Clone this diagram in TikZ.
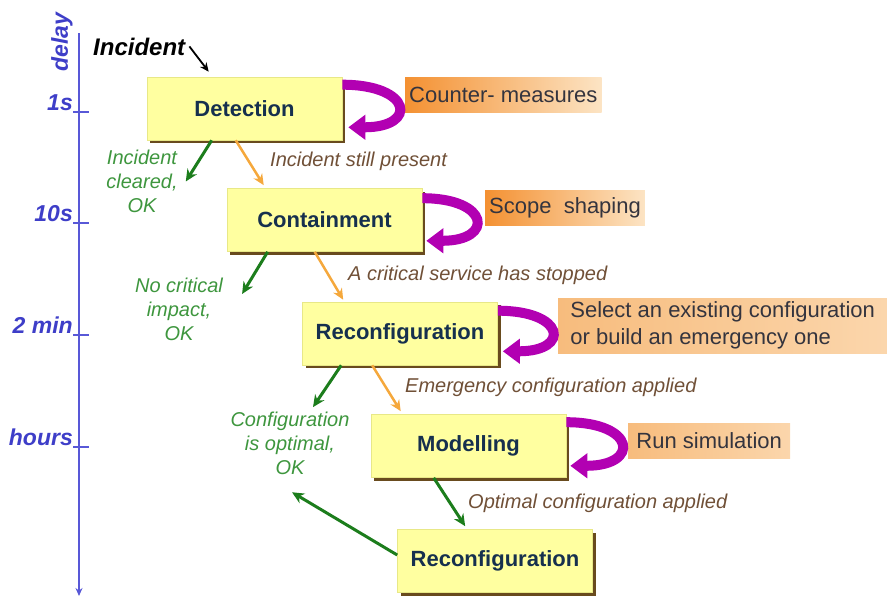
\documentclass[tikz,border=0pt]{standalone}
\usepackage{fontspec}
\setmainfont{Liberation Sans}
\usetikzlibrary{positioning, arrows.meta, shadows}

\definecolor{stageyellow}{RGB}{255,255,160}
\definecolor{stageedge}{RGB}{232,232,135}
\definecolor{stagetext}{RGB}{22,48,78}
\definecolor{shadowbrown}{RGB}{105,75,30}
\definecolor{axisblue}{RGB}{88,88,215}
\definecolor{axistext}{RGB}{62,62,200}
\definecolor{okgreen}{RGB}{28,125,28}
\definecolor{oktext}{RGB}{62,150,62}
\definecolor{goorange}{RGB}{245,168,60}
\definecolor{gotext}{RGB}{112,80,55}
\definecolor{loopviolet}{RGB}{178,0,178}
\definecolor{noteA}{RGB}{244,145,50}
\definecolor{noteB}{RGB}{252,228,196}
\definecolor{noteC}{RGB}{247,188,125}
\definecolor{noteD}{RGB}{251,214,172}
\definecolor{notetext}{RGB}{52,52,62}

\begin{document}
\begin{tikzpicture}[x=1pt, y=-1pt,
        stage/.style={rectangle, fill=stageyellow, draw=stageedge, line width=0.6pt, minimum width=195pt, minimum height=63pt, font=\bfseries\fontsize{22}{26}\selectfont, text=stagetext, drop shadow={shadow xshift=3pt, shadow yshift=-3pt, fill=shadowbrown, opacity=1}},
        note/.style={rectangle, anchor=west, minimum height=35pt, inner xsep=4pt, align=left, font=\fontsize{22}{27}\selectfont, text=notetext},
        strong/.style={note, left color=noteA, right color=noteB},
        soft/.style={note, left color=noteC, right color=noteD},
        oklabel/.style={align=center, inner sep=2pt, text=oktext, font=\itshape\fontsize{20}{24}\selectfont},
        golabel/.style={anchor=base west, inner sep=0pt, text=gotext, font=\itshape\fontsize{20}{24}\selectfont},
        tick/.style={anchor=base east, inner sep=0pt, text=axistext, font=\bfseries\itshape\fontsize{23}{26}\selectfont},
        okarrow/.style={-{Stealth[length=12pt,width=11pt]}, line width=3pt, okgreen},
        goarrow/.style={-{Stealth[length=11pt,width=10pt]}, line width=2.5pt, goorange},
        loopy/.style={-{Triangle[length=17pt,width=24pt]}, line width=10pt, loopviolet}
    ]
        \useasboundingbox (0,0) rectangle (887,597);

        % Time axis
        \draw[axisblue, line width=2.2pt, -{Stealth[length=8pt,width=7pt]}] (79,33) -- (79,596);
        \foreach \y/\t in {112/1s, 223/10s, 335/2 min, 447/hours} {
            \draw[axisblue, line width=2.2pt] (73,\y) -- (89,\y);
            \node[tick] at (73,\y-2) {\t};
        }
        \node[rotate=90, text=axistext, font=\bfseries\itshape\fontsize{23}{26}\selectfont] (delay) at (62,42) {delay};

        % Stages
        \node[stage] (det) at (244.5,108.5) {Detection};
        \node[stage] (cont) at (324.5,220) {Containment};
        \node[stage] (reconf) at (400,333.5) {Reconfiguration};
        \node[stage] (model) at (468.5,446) {Modelling};
        \node[stage] (final) at (495,561) {Reconfiguration};

        % Actions
        \node[strong] (counter) at (405,94.5) {Counter- measures};
        \node[strong] (scope) at (485,207.5) {Scope\ \ shaping};
        \node[soft, minimum height=55pt, minimum width=329pt] (select) at (558,325.5) {Select an existing configuration\\or build an emergency one};
        \node[soft, minimum width=162pt] (sim) at (628,440.5) {Run simulation};

        \draw[loopy] ([yshift=-8pt]det.north east) .. controls +(70,0) and +(70,0) .. ([shift={(6pt,13pt)}]det.south east);
        \draw[loopy] ([yshift=-10pt]cont.north east) .. controls +(68,0) and +(68,0) .. ([shift={(4pt,11pt)}]cont.south east);
        \draw[loopy] ([yshift=-9pt]reconf.north east) .. controls +(68,0) and +(68,0) .. ([shift={(5pt,14pt)}]reconf.south east);
        \draw[loopy] ([yshift=-8pt]model.north east) .. controls +(70,0) and +(70,0) .. ([shift={(4pt,12pt)}]model.south east);

        % Start
        \node[anchor=base west, inner sep=0pt, font=\bfseries\itshape\fontsize{24}{28}\selectfont] (inc) at (93,55) {Incident};
        \draw[-{Stealth[length=9pt,width=8pt]}, line width=1.8pt] ([xshift=4pt]inc.east) -- ([shift={(62pt,5pt)}]det.north west);

        % Outcomes
        \node[oklabel] (cleared) at (142,181.5) {Incident\\cleared,\\OK};
        \node[oklabel] (noimpact) at (179,309) {No critical\\impact,\\OK};
        \node[oklabel] (optimal) at (290,443.7) {Configuration\\is optimal,\\OK};

        \node[golabel] (still) at (270,166) {Incident still present};
        \node[golabel] (stopped) at (348,280) {A critical service has stopped};
        \node[golabel] (emerg) at (405,392) {Emergency configuration applied};
        \node[golabel] (applied) at (468,508) {Optimal configuration applied};

        \draw[okarrow] ([xshift=65pt]det.south west) -- ([xshift=6pt]cleared.east);
        \draw[goarrow] ([xshift=89pt]det.south west) -- ([shift={(37pt,3pt)}]cont.north west);
        \draw[okarrow] ([xshift=41pt]cont.south west) -- ([shift={(17pt,15pt)}]noimpact.east);
        \draw[goarrow] ([xshift=88pt]cont.south west) -- ([shift={(41pt,2pt)}]reconf.north west);
        \draw[okarrow] ([xshift=39pt]reconf.south west) -- ([shift={(23pt,3pt)}]optimal.north);
        \draw[goarrow] ([xshift=70pt]reconf.south west) -- ([shift={(30pt,3pt)}]model.north west);
        \draw[okarrow] ([xshift=63pt]model.south west) -- ([shift={(68pt,3pt)}]final.north west);
        \draw[okarrow] ([yshift=6pt]final.west) -- ([shift={(2pt,-15pt)}]optimal.south);
\end{tikzpicture}
\end{document}
